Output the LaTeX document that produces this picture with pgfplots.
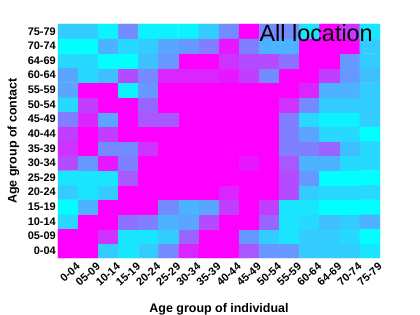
\documentclass[border=0pt]{standalone}
\usepackage{fontspec}
\setmainfont{Liberation Sans}
\usepackage{pgfplots}
\pgfplotsset{compat=1.18}
\begin{document}
\begin{tikzpicture}
\path[use as bounding box] (-58bp,-57bp) rectangle (362bp,258bp);
\begin{axis}[
  at={(0,0)}, anchor=south west,
  scale only axis, width=322bp, height=234bp,
  xmin=-0.5, xmax=15.5, ymin=-0.5, ymax=15.5,
  colormap={cool}{rgb=(0,1,1) rgb=(1,0,1)},
  point meta min=0, point meta max=1,
  axis line style={draw=none},
  tick style={draw=none},
  xtick={0,...,15}, ytick={0,...,15},
  xticklabels={0-04,05-09,10-14,15-19,20-24,25-29,30-34,35-39,40-44,45-49,50-54,55-59,60-64,64-69,70-74,75-79},
  yticklabels={0-04,05-09,10-14,15-19,20-24,25-29,30-34,35-39,40-44,45-49,50-54,55-59,60-64,64-69,70-74,75-79},
  ticklabel style={font=\fontsize{11}{11}\selectfont\bfseries},
  xticklabel style={rotate=42, anchor=east, inner sep=0pt, xshift=3bp, yshift=-12bp},
  yticklabel style={inner sep=2pt},
  xlabel={Age group of individual},
  ylabel={Age group of contact},
  label style={font=\fontsize{12.5}{13}\selectfont\bfseries},
  xlabel style={yshift=-13bp},
  ylabel style={yshift=3bp},
]
\addplot[matrix plot*, mesh/cols=16, point meta=explicit] coordinates {
(0,0)[1] (1,0)[1] (2,0)[0.2] (3,0)[0.1] (4,0)[0.2] (5,0)[0.45] (6,0)[0.85] (7,0)[1] (8,0)[1] (9,0)[0.65] (10,0)[0.4] (11,0)[0.4] (12,0)[0.2] (13,0)[0.2] (14,0)[0.2] (15,0)[0.1]
(0,1)[1] (1,1)[1] (2,1)[0.8] (3,1)[0.1] (4,1)[0.1] (5,1)[0.2] (6,1)[0.6] (7,1)[1] (8,1)[1] (9,1)[0.4] (10,1)[0.2] (11,1)[0.1] (12,1)[0.2] (13,1)[0.2] (14,1)[0.15] (15,1)[0]
(0,2)[0.15] (1,2)[1] (2,2)[1] (3,2)[0.55] (4,2)[0.5] (5,2)[0.3] (6,2)[0.35] (7,2)[0.7] (8,2)[1] (9,2)[1] (10,2)[0.6] (11,2)[0.1] (12,2)[0.15] (13,2)[0.25] (14,2)[0.2] (15,2)[0.3]
(0,3)[0] (1,3)[0.3] (2,3)[1] (3,3)[1] (4,3)[1] (5,3)[0.45] (6,3)[0.3] (7,3)[0.35] (8,3)[0.75] (9,3)[1] (10,3)[0.75] (11,3)[0.1] (12,3)[0.1] (13,3)[0] (14,3)[0] (15,3)[0]
(0,4)[0.2] (1,4)[0.1] (2,4)[0.2] (3,4)[1] (4,4)[1] (5,4)[1] (6,4)[1] (7,4)[1] (8,4)[0.85] (9,4)[1] (10,4)[1] (11,4)[0.7] (12,4)[0.2] (13,4)[0.15] (14,4)[0.15] (15,4)[0.15]
(0,5)[0.1] (1,5)[0.1] (2,5)[0.1] (3,5)[0.65] (4,5)[1] (5,5)[1] (6,5)[1] (7,5)[1] (8,5)[1] (9,5)[1] (10,5)[1] (11,5)[0.7] (12,5)[0.4] (13,5)[0] (14,5)[0] (15,5)[0]
(0,6)[0.7] (1,6)[0.4] (2,6)[0.9] (3,6)[0.5] (4,6)[1] (5,6)[1] (6,6)[1] (7,6)[1] (8,6)[1] (9,6)[0.9] (10,6)[1] (11,6)[0.65] (12,6)[0.3] (13,6)[0.3] (14,6)[0.15] (15,6)[0.15]
(0,7)[0.8] (1,7)[1] (2,7)[0.45] (3,7)[0.45] (4,7)[0.8] (5,7)[1] (6,7)[1] (7,7)[1] (8,7)[1] (9,7)[1] (10,7)[1] (11,7)[0.5] (12,7)[0.5] (13,7)[0.6] (14,7)[0.25] (15,7)[0.15]
(0,8)[0.75] (1,8)[1] (2,8)[0.75] (3,8)[1] (4,8)[1] (5,8)[1] (6,8)[1] (7,8)[1] (8,8)[1] (9,8)[1] (10,8)[1] (11,8)[0.5] (12,8)[0.35] (13,8)[0.15] (14,8)[0.15] (15,8)[0]
(0,9)[0.5] (1,9)[0.85] (2,9)[0.35] (3,9)[1] (4,9)[0.65] (5,9)[0.65] (6,9)[1] (7,9)[1] (8,9)[1] (9,9)[1] (10,9)[1] (11,9)[0.5] (12,9)[0.15] (13,9)[0.05] (14,9)[0.05] (15,9)[0.2]
(0,10)[0.15] (1,10)[0.75] (2,10)[1] (3,10)[1] (4,10)[0.6] (5,10)[1] (6,10)[1] (7,10)[1] (8,10)[1] (9,10)[1] (10,10)[1] (11,10)[0.8] (12,10)[0.45] (13,10)[0.2] (14,10)[0.2] (15,10)[0.2]
(0,11)[0.35] (1,11)[1] (2,11)[1] (3,11)[0.05] (4,11)[0.4] (5,11)[1] (6,11)[1] (7,11)[1] (8,11)[1] (9,11)[1] (10,11)[1] (11,11)[1] (12,11)[0.85] (13,11)[0.3] (14,11)[0.3] (15,11)[0.2]
(0,12)[0.35] (1,12)[0.15] (2,12)[0.25] (3,12)[0.7] (4,12)[0.45] (5,12)[0.85] (6,12)[0.85] (7,12)[0.85] (8,12)[0.9] (9,12)[0.75] (10,12)[0.45] (11,12)[1] (12,12)[1] (13,12)[0.75] (14,12)[0.4] (15,12)[0.25]
(0,13)[0.15] (1,13)[0.15] (2,13)[0] (3,13)[0] (4,13)[0.25] (5,13)[0.4] (6,13)[1] (7,13)[1] (8,13)[0.8] (9,13)[0.7] (10,13)[0.7] (11,13)[0.55] (12,13)[1] (13,13)[1] (14,13)[0.4] (15,13)[0.2]
(0,14)[0] (1,14)[0] (2,14)[0.3] (3,14)[0.15] (4,14)[0.2] (5,14)[0.35] (6,14)[0.4] (7,14)[0.5] (8,14)[0.9] (9,14)[0.5] (10,14)[0.3] (11,14)[0.3] (12,14)[1] (13,14)[1] (14,14)[1] (15,14)[0.2]
(0,15)[0.2] (1,15)[0.2] (2,15)[0.05] (3,15)[0.45] (4,15)[0.05] (5,15)[0.05] (6,15)[0.05] (7,15)[0.2] (8,15)[0.45] (9,15)[1] (10,15)[0.45] (11,15)[0.45] (12,15)[0.1] (13,15)[1] (14,15)[0.8] (15,15)[0.1]
};
\node[anchor=base east, font=\fontsize{23.5}{24}\selectfont, inner sep=0pt] at ([xshift=-7bp,yshift=-18bp]rel axis cs:1,1) {All location};
\end{axis}
\end{tikzpicture}
\end{document}
